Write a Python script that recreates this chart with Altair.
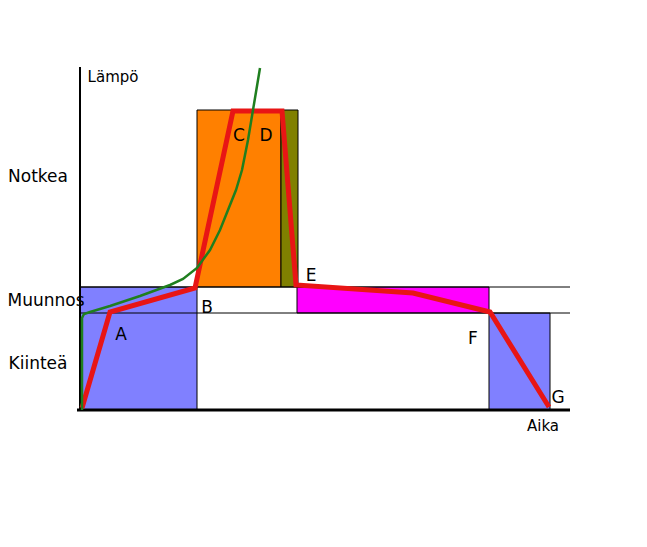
import altair as alt
import pandas as pd

# Rectangles (phases): time start/end, temperature bottom/top, colour
rect_x = [0, 117, 201, 217, 409]
rect_x2 = [117, 201, 218, 409, 470]
rect_y = [0, 123, 123, 97, 0]
rect_y2 = [123, 300, 300, 123, 97]
rect_col = ["#8080ff", "#ff8000", "#808000", "#ff00ff", "#8080ff"]

# Guide lines (phase boundaries)
hline_t = [123, 97]
hline_x0 = [0, 0]
hline_x1 = [490, 490]

# Red heating/cooling path
red_x = [2, 30, 115, 153, 202, 216, 333, 410, 469]
red_t = [2, 98, 122, 299, 299, 125, 117, 98, 3]

# Green curve
green_x = [2, 2, 4, 10, 30, 60, 90, 103, 117, 130, 140, 148, 156, 162, 168, 173, 176, 180]
green_t = [0, 92, 96, 98, 104, 114, 125, 131, 142, 160, 180, 200, 220, 240, 270, 300, 318, 342]

# Labels
lab_text = ["Notkea", "Muunnos", "Kiinteä", "A", "B", "C", "D", "E", "F", "G"]
lab_x = [-42, -34, -42, 41, 127, 159, 186, 231, 393, 478]
lab_t = [233, 109, 46, 75, 102, 274, 274, 134, 71, 12]

small_text = ["Lämpö", "Aika"]
small_x = [33, 463]
small_t = [333, -16]

X = alt.Scale(domain=[-72, 559])
Y = alt.Scale(domain=[-129, 402])

rects = pd.DataFrame({"x": rect_x, "x2": rect_x2, "y": rect_y, "y2": rect_y2, "c": rect_col})
hl = pd.DataFrame({"x": hline_x0, "x2": hline_x1, "y": hline_t})
red = pd.DataFrame({"x": red_x, "y": red_t, "o": list(range(len(red_x)))})
green = pd.DataFrame({"x": green_x, "y": green_t, "o": list(range(len(green_x)))})
labs = pd.DataFrame({"x": lab_x, "y": lab_t, "t": lab_text})
smalls = pd.DataFrame({"x": small_x, "y": small_t, "t": small_text})
vaxis = pd.DataFrame({"x": [0], "y": [0], "y2": [343]})
haxis = pd.DataFrame({"x": [-3], "x2": [490], "y": [0]})

r_layer = alt.Chart(rects).mark_rect(stroke="black", strokeWidth=1).encode(
    x=alt.X("x:Q", scale=X, axis=None), x2="x2:Q",
    y=alt.Y("y:Q", scale=Y, axis=None), y2="y2:Q",
    color=alt.Color("c:N", scale=None),
)
h_layer = alt.Chart(hl).mark_rule(color="black", strokeWidth=1).encode(
    x=alt.X("x:Q", scale=X, axis=None), x2="x2:Q",
    y=alt.Y("y:Q", scale=Y, axis=None),
)
va = alt.Chart(vaxis).mark_rule(color="black", strokeWidth=2).encode(
    x=alt.X("x:Q", scale=X, axis=None),
    y=alt.Y("y:Q", scale=Y, axis=None), y2="y2:Q",
)
ha = alt.Chart(haxis).mark_rule(color="black", strokeWidth=3).encode(
    x=alt.X("x:Q", scale=X, axis=None), x2="x2:Q",
    y=alt.Y("y:Q", scale=Y, axis=None),
)
red_layer = alt.Chart(red).mark_line(color="#e81515", strokeWidth=5, strokeJoin="miter").encode(
    x=alt.X("x:Q", scale=X, axis=None),
    y=alt.Y("y:Q", scale=Y, axis=None),
    order="o:Q",
)
green_layer = alt.Chart(green).mark_line(color="#1f7f1f", strokeWidth=2.5, interpolate="linear").encode(
    x=alt.X("x:Q", scale=X, axis=None),
    y=alt.Y("y:Q", scale=Y, axis=None),
    order="o:Q",
)
lab_layer = alt.Chart(labs).mark_text(font="DejaVu Sans", fontSize=17, color="black",
                                      align="center", baseline="middle").encode(
    x=alt.X("x:Q", scale=X, axis=None),
    y=alt.Y("y:Q", scale=Y, axis=None),
    text="t:N",
)
small_layer = alt.Chart(smalls).mark_text(font="DejaVu Sans", fontSize=15, color="black",
                                          align="center", baseline="middle").encode(
    x=alt.X("x:Q", scale=X, axis=None),
    y=alt.Y("y:Q", scale=Y, axis=None),
    text="t:N",
)

chart = alt.layer(r_layer, h_layer, va, ha, red_layer, green_layer, lab_layer, small_layer).properties(
    width=631, height=531, autosize=alt.AutoSizeParams(type="none"), padding=0,
    background="white",
).configure_view(stroke=None)

chart.save("out.html", embed_options={"renderer": "svg", "actions": False})
